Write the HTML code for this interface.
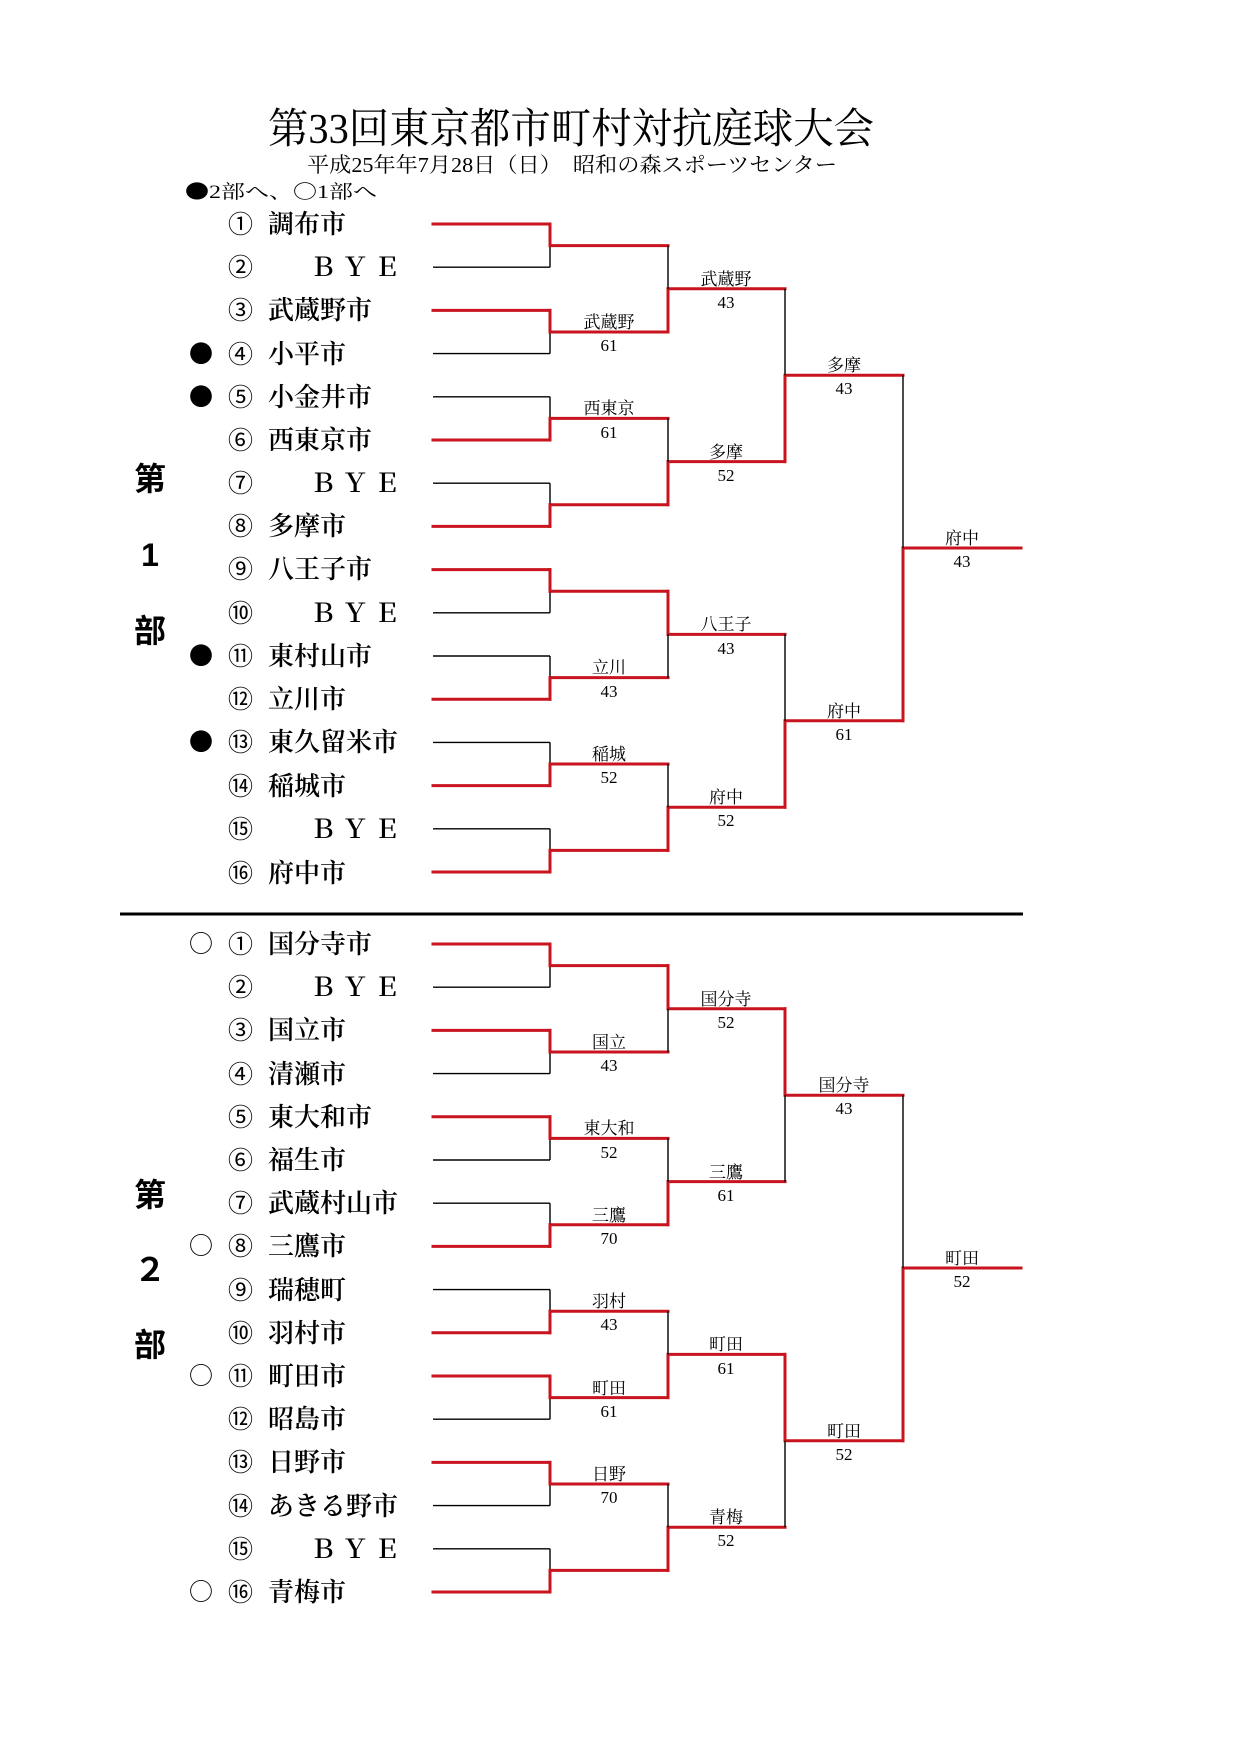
<!DOCTYPE html>
<html><head><meta charset="utf-8"><style>
html,body{margin:0;padding:0;background:#fff}
svg{display:block}
text{font-family:"Liberation Serif","Noto Serif CJK SC",serif;fill:#000}
.n{font-size:26px;font-weight:600}
.n .c{font-family:"Noto Sans CJK JP","Noto Sans CJK SC",sans-serif;font-weight:400;font-size:25px}
.n .m{font-family:"Noto Sans CJK JP","Noto Sans CJK SC",sans-serif;font-weight:400;font-size:24px}
.l{font-size:17px;text-anchor:middle}
.s{font-size:32px;font-weight:bold;text-anchor:middle;font-family:"Liberation Sans","Noto Sans CJK SC",sans-serif}
.r{stroke:#c8141e;stroke-width:3;fill:none;stroke-linecap:square}
.b{stroke:#000;stroke-width:1.4;fill:none}
</style></head><body>
<svg width="1240" height="1754" viewBox="0 0 1240 1754" xmlns="http://www.w3.org/2000/svg">
<text x="571" y="143" font-size="42" text-anchor="middle" textLength="606" lengthAdjust="spacingAndGlyphs">第33回東京都市町村対抗庭球大会</text>
<text x="572" y="172" font-size="21" text-anchor="middle" textLength="530" lengthAdjust="spacingAndGlyphs">平成25年年7月28日（日）　昭和の森スポーツセンター</text>
<text x="185" y="198" font-size="19" textLength="192" lengthAdjust="spacingAndGlyphs"><tspan font-family="Noto Sans CJK JP,sans-serif">●</tspan>2部へ、<tspan font-family="Noto Sans CJK JP,sans-serif">○</tspan>1部へ</text>

<text class="s" x="150" y="490">第</text>
<text class="s" x="150" y="566">1</text>
<text class="s" x="150" y="642">部</text>
<text class="s" x="150" y="1206">第</text>
<text class="s" x="150" y="1281">２</text>
<text class="s" x="150" y="1356">部</text>

<line x1="120" y1="914" x2="1023" y2="914" stroke="#000" stroke-width="3"/>

<g class="n">
<text class="c" x="228" y="233">①</text><text x="268" y="233">調布市</text>
<text class="c" x="228" y="276">②</text><text x="310" y="276" letter-spacing="6">ＢＹＥ</text>
<text class="c" x="228" y="319">③</text><text x="268" y="319">武蔵野市</text>
<text class="m" x="189" y="362">●</text><text class="c" x="228" y="363">④</text><text x="268" y="363">小平市</text>
<text class="m" x="189" y="405">●</text><text class="c" x="228" y="406">⑤</text><text x="268" y="406">小金井市</text>
<text class="c" x="228" y="449">⑥</text><text x="268" y="449">西東京市</text>
<text class="c" x="228" y="492">⑦</text><text x="310" y="492" letter-spacing="6">ＢＹＥ</text>
<text class="c" x="228" y="535">⑧</text><text x="268" y="535">多摩市</text>
<text class="c" x="228" y="578">⑨</text><text x="268" y="578">八王子市</text>
<text class="c" x="228" y="622">⑩</text><text x="310" y="622" letter-spacing="6">ＢＹＥ</text>
<text class="m" x="189" y="664">●</text><text class="c" x="228" y="665">⑪</text><text x="268" y="665">東村山市</text>
<text class="c" x="228" y="708">⑫</text><text x="268" y="708">立川市</text>
<text class="m" x="189" y="750">●</text><text class="c" x="228" y="751">⑬</text><text x="268" y="751">東久留米市</text>
<text class="c" x="228" y="795">⑭</text><text x="268" y="795">稲城市</text>
<text class="c" x="228" y="838">⑮</text><text x="310" y="838" letter-spacing="6">ＢＹＥ</text>
<text class="c" x="228" y="882">⑯</text><text x="268" y="882">府中市</text>

<text class="m" x="189" y="952">○</text><text class="c" x="228" y="953">①</text><text x="268" y="953">国分寺市</text>
<text class="c" x="228" y="996">②</text><text x="310" y="996" letter-spacing="6">ＢＹＥ</text>
<text class="c" x="228" y="1039">③</text><text x="268" y="1039">国立市</text>
<text class="c" x="228" y="1083">④</text><text x="268" y="1083">清瀬市</text>
<text class="c" x="228" y="1126">⑤</text><text x="268" y="1126">東大和市</text>
<text class="c" x="228" y="1169">⑥</text><text x="268" y="1169">福生市</text>
<text class="c" x="228" y="1212">⑦</text><text x="268" y="1212">武蔵村山市</text>
<text class="m" x="189" y="1254">○</text><text class="c" x="228" y="1255">⑧</text><text x="268" y="1255">三鷹市</text>
<text class="c" x="228" y="1299">⑨</text><text x="268" y="1299">瑞穂町</text>
<text class="c" x="228" y="1342">⑩</text><text x="268" y="1342">羽村市</text>
<text class="m" x="189" y="1384">○</text><text class="c" x="228" y="1385">⑪</text><text x="268" y="1385">町田市</text>
<text class="c" x="228" y="1428">⑫</text><text x="268" y="1428">昭島市</text>
<text class="c" x="228" y="1471">⑬</text><text x="268" y="1471">日野市</text>
<text class="c" x="228" y="1515">⑭</text><text x="268" y="1515">あきる野市</text>
<text class="c" x="228" y="1558">⑮</text><text x="310" y="1558" letter-spacing="6">ＢＹＥ</text>
<text class="m" x="189" y="1600">○</text><text class="c" x="228" y="1601">⑯</text><text x="268" y="1601">青梅市</text>
</g>

<g transform="translate(-2,0)">
<path class="r" d="M435 224H552M435 310.4H552M435 440H552M435 526.4H552M435 569.6H552M435 699.2H552M435 785.6H552M435 872H552"/>
<path class="b" d="M435 267.2H552M435 353.6H552M435 396.8H552M435 483.2H552M435 612.8H552M435 656H552M435 742.4H552M435 828.8H552"/>
<path class="r" d="M552 224V245.6M552 310.4V332M552 440V418.4M552 526.4V504.8M552 569.6V591.2M552 699.2V677.6M552 785.6V764M552 872V850.4"/>
<path class="b" d="M552 245.6V267.2M552 332V353.6M552 396.8V418.4M552 483.2V504.8M552 591.2V612.8M552 656V677.6M552 742.4V764M552 828.8V850.4"/>
<path class="r" d="M552 245.6H670M552 332H670M552 418.4H670M552 504.8H670M552 591.2H670M552 677.6H670M552 764H670M552 850.4H670"/>
<path class="r" d="M670 332V288.8M670 504.8V461.6M670 591.2V634.4M670 850.4V807.2M670 288.8H787M670 461.6H787M670 634.4H787M670 807.2H787"/>
<path class="b" d="M670 245.6V288.8M670 418.4V461.6M670 677.6V634.4M670 764V807.2"/>
<path class="r" d="M787 461.6V375.2M787 807.2V720.8M787 375.2H905M787 720.8H905"/>
<path class="b" d="M787 288.8V375.2M787 634.4V720.8"/>
<path class="r" d="M905 720.8V548M905 548H1023"/>
<path class="b" d="M905 375.2V548"/>

<path class="r" d="M435 944H552M435 1030.4H552M435 1116.8H552M435 1246.4H552M435 1332.8H552M435 1376H552M435 1462.4H552M435 1592H552"/>
<path class="b" d="M435 987.2H552M435 1073.6H552M435 1160H552M435 1203.2H552M435 1289.6H552M435 1419.2H552M435 1505.6H552M435 1548.8H552"/>
<path class="r" d="M552 944V965.6M552 1030.4V1052M552 1116.8V1138.4M552 1246.4V1224.8M552 1332.8V1311.2M552 1376V1397.6M552 1462.4V1484M552 1592V1570.4"/>
<path class="b" d="M552 965.6V987.2M552 1052V1073.6M552 1138.4V1160M552 1203.2V1224.8M552 1289.6V1311.2M552 1397.6V1419.2M552 1484V1505.6M552 1548.8V1570.4"/>
<path class="r" d="M552 965.6H670M552 1052H670M552 1138.4H670M552 1224.8H670M552 1311.2H670M552 1397.6H670M552 1484H670M552 1570.4H670"/>
<path class="r" d="M670 965.6V1008.8M670 1224.8V1181.6M670 1397.6V1354.4M670 1570.4V1527.2M670 1008.8H787M670 1181.6H787M670 1354.4H787M670 1527.2H787"/>
<path class="b" d="M670 1052V1008.8M670 1138.4V1181.6M670 1311.2V1354.4M670 1484V1527.2"/>
<path class="r" d="M787 1008.8V1095.2M787 1354.4V1440.8M787 1095.2H905M787 1440.8H905"/>
<path class="b" d="M787 1181.6V1095.2M787 1527.2V1440.8"/>
<path class="r" d="M905 1440.8V1268M905 1268H1023"/>
<path class="b" d="M905 1095.2V1268"/>

<g class="l">
<text x="611" y="328">武蔵野</text><text x="611" y="351">61</text>
<text x="611" y="414">西東京</text><text x="611" y="438">61</text>
<text x="611" y="673">立川</text><text x="611" y="697">43</text>
<text x="611" y="760">稲城</text><text x="611" y="783">52</text>
<text x="728" y="285">武蔵野</text><text x="728" y="308">43</text>
<text x="728" y="458">多摩</text><text x="728" y="481">52</text>
<text x="728" y="630">八王子</text><text x="728" y="654">43</text>
<text x="728" y="803">府中</text><text x="728" y="826">52</text>
<text x="846" y="371">多摩</text><text x="846" y="394">43</text>
<text x="846" y="717">府中</text><text x="846" y="740">61</text>
<text x="964" y="544">府中</text><text x="964" y="567">43</text>

<text x="611" y="1048">国立</text><text x="611" y="1071">43</text>
<text x="611" y="1134">東大和</text><text x="611" y="1158">52</text>
<text x="611" y="1221">三鷹</text><text x="611" y="1244">70</text>
<text x="611" y="1307">羽村</text><text x="611" y="1330">43</text>
<text x="611" y="1394">町田</text><text x="611" y="1417">61</text>
<text x="611" y="1480">日野</text><text x="611" y="1503">70</text>
<text x="728" y="1005">国分寺</text><text x="728" y="1028">52</text>
<text x="728" y="1178">三鷹</text><text x="728" y="1201">61</text>
<text x="728" y="1350">町田</text><text x="728" y="1374">61</text>
<text x="728" y="1523">青梅</text><text x="728" y="1546">52</text>
<text x="846" y="1091">国分寺</text><text x="846" y="1114">43</text>
<text x="846" y="1437">町田</text><text x="846" y="1460">52</text>
<text x="964" y="1264">町田</text><text x="964" y="1287">52</text>
</g>
</g>
</svg>
</body></html>
